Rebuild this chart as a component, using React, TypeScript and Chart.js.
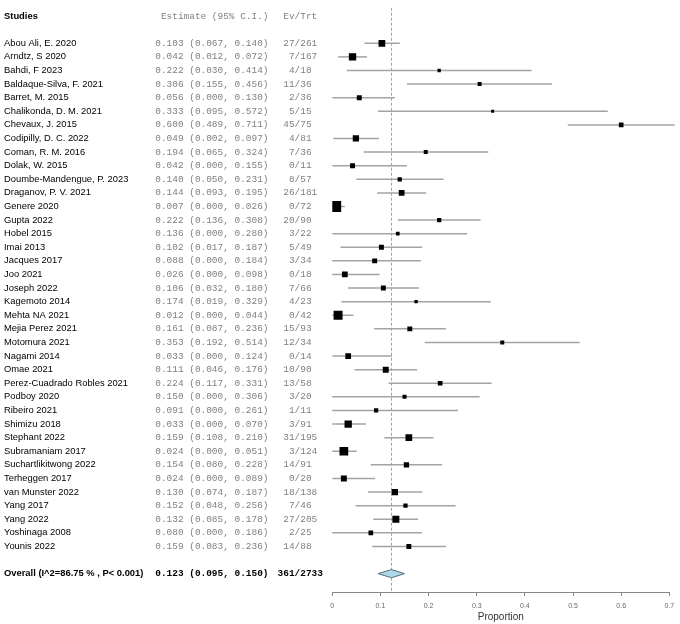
import React, { useEffect, useRef } from "react";
import { Chart, registerables } from "chart.js";
Chart.register(...registerables);

const studies = [
  "Abou Ali, E. 2020", "Arndtz, S 2020", "Bahdi, F 2023", "Baldaque-Silva, F. 2021", "Barret, M. 2015",
  "Chalikonda, D. M. 2021", "Chevaux, J. 2015", "Codipilly, D. C. 2022", "Coman, R. M. 2016", "Dolak, W. 2015",
  "Doumbe-Mandengue, P. 2023", "Draganov, P. V. 2021", "Genere 2020", "Gupta 2022", "Hobel 2015",
  "Imai 2013", "Jacques 2017", "Joo 2021", "Joseph 2022", "Kagemoto 2014",
  "Mehta NA 2021", "Mejia Perez 2021", "Motomura 2021", "Nagami 2014", "Omae 2021",
  "Perez-Cuadrado Robles 2021", "Podboy 2020", "Ribeiro 2021", "Shimizu 2018", "Stephant 2022",
  "Subramaniam 2017", "Suchartlikitwong 2022", "Terheggen 2017", "van Munster 2022", "Yang 2017",
  "Yang 2022", "Yoshinaga 2008", "Younis 2022",
];
const estimates = [
  0.103, 0.042, 0.222, 0.306, 0.056, 0.333, 0.600, 0.049, 0.194, 0.042,
  0.140, 0.144, 0.007, 0.222, 0.136, 0.102, 0.088, 0.026, 0.106, 0.174,
  0.012, 0.161, 0.353, 0.033, 0.111, 0.224, 0.150, 0.091, 0.033, 0.159,
  0.024, 0.154, 0.024, 0.130, 0.152, 0.132, 0.080, 0.159,
];
const lower = [
  0.067, 0.012, 0.030, 0.155, 0.000, 0.095, 0.489, 0.002, 0.065, 0.000,
  0.050, 0.093, 0.000, 0.136, 0.000, 0.017, 0.000, 0.000, 0.032, 0.019,
  0.000, 0.087, 0.192, 0.000, 0.046, 0.117, 0.000, 0.000, 0.000, 0.108,
  0.000, 0.080, 0.000, 0.074, 0.048, 0.085, 0.000, 0.083,
];
const upper = [
  0.140, 0.072, 0.414, 0.456, 0.130, 0.572, 0.711, 0.097, 0.324, 0.155,
  0.231, 0.195, 0.026, 0.308, 0.280, 0.187, 0.184, 0.098, 0.180, 0.329,
  0.044, 0.236, 0.514, 0.124, 0.176, 0.331, 0.306, 0.261, 0.070, 0.210,
  0.051, 0.228, 0.089, 0.187, 0.256, 0.178, 0.186, 0.236,
];
const events = [
  27, 7, 4, 11, 2, 5, 45, 4, 7, 0, 8, 26, 0, 20, 3, 5, 3, 0, 7, 4,
  0, 15, 12, 0, 10, 13, 3, 1, 3, 31, 3, 14, 0, 18, 7, 27, 2, 14,
];
const totals = [
  261, 167, 18, 36, 36, 15, 75, 81, 36, 11, 57, 181, 72, 90, 22, 49, 34, 18, 66, 23,
  42, 93, 34, 14, 90, 58, 20, 11, 91, 195, 124, 91, 20, 138, 46, 205, 25, 88,
];
// relative study weights (%)
const weights = [
  3.7, 4.4, 0.9, 1.3, 2.0, 0.7, 1.8, 3.2, 1.3, 2.0, 1.5, 2.7, 9.9, 1.5, 1.1, 2.0, 2.0, 2.7, 2.0, 0.9,
  6.6, 2.0, 1.3, 2.7, 2.9, 1.8, 1.3, 1.5, 4.4, 3.7, 6.2, 2.3, 2.9, 3.2, 1.5, 4.0, 1.8, 2.0,
];
const overallLabel = "Overall (I^2=86.75 % , P< 0.001)";
const overallEstimate = 0.123;
const overallLower = 0.095;
const overallUpper = 0.15;
const overallEvents = 361;
const overallTotal = 2733;
const xTicks = [0, 0.1, 0.2, 0.3, 0.4, 0.5, 0.6, 0.7];

const W = 680;
const H = 624;
const Y_MIN = -2.612;
const Y_MAX = 40.35;
const HEADER_ROW = -2;
const OVERALL_ROW = studies.length + 1;

const SANS = '"Liberation Sans", Arial, sans-serif';
const MONO = '"Liberation Mono", "Courier New", monospace';
const NAME_X = 4;
const EST_RIGHT = 268.5;
const SLASH_X = 294.6;

const fmt = (v: number) => v.toFixed(3);

const textPlugin = {
  id: "forestText",
  afterDraw(chart: any) {
    const ctx = chart.ctx as CanvasRenderingContext2D;
    const ys = chart.scales.y;
    ctx.save();
    ctx.textBaseline = "middle";

    const drawRow = (row: number, name: string, est: number, lo: number, hi: number, ev: number, tot: number, bold: boolean) => {
      const y = ys.getPixelForValue(row);
      ctx.font = `${bold ? "bold " : ""}9.4px ${SANS}`;
      ctx.fillStyle = "#000";
      ctx.textAlign = "left";
      ctx.fillText(name, NAME_X, y);
      ctx.font = `${bold ? "bold " : ""}9.45px ${MONO}`;
      ctx.fillStyle = bold ? "#000" : "#808080";
      ctx.textAlign = "right";
      ctx.fillText(`${fmt(est)} (${fmt(lo)}, ${fmt(hi)})`, EST_RIGHT, y);
      ctx.fillText(String(ev), SLASH_X, y);
      ctx.textAlign = "left";
      ctx.fillText(`/${tot}`, SLASH_X, y);
    };

    const hy = ys.getPixelForValue(HEADER_ROW);
    ctx.font = `bold 9.4px ${SANS}`;
    ctx.fillStyle = "#000";
    ctx.textAlign = "left";
    ctx.fillText("Studies", NAME_X, hy);
    ctx.font = `9.45px ${MONO}`;
    ctx.fillStyle = "#808080";
    ctx.textAlign = "right";
    ctx.fillText("Estimate (95% C.I.)", EST_RIGHT, hy);
    ctx.fillText("Ev", SLASH_X, hy);
    ctx.textAlign = "left";
    ctx.fillText("/Trt", SLASH_X, hy);

    studies.forEach((s, i) => drawRow(i, s, estimates[i], lower[i], upper[i], events[i], totals[i], false));
    drawRow(OVERALL_ROW, overallLabel, overallEstimate, overallLower, overallUpper, overallEvents, overallTotal, true);
    ctx.restore();
  },
};

export default function App() {
  const ref = useRef<HTMLCanvasElement | null>(null);
  useEffect(() => {
    if (!ref.current) return;
    const ciSets = studies.map((s, i) => ({
      type: "line" as const,
      label: s,
      data: [
        { x: lower[i], y: i },
        { x: upper[i], y: i },
      ],
      showLine: true,
      borderColor: "#a3a3a3",
      borderWidth: 1.5,
      pointRadius: 0,
      clip: false as any,
      order: 2,
    }));
    const chart = new Chart(ref.current, {
      type: "scatter",
      data: {
        datasets: [
          {
            label: "Estimates",
            data: estimates.map((e, i) => ({ x: e, y: i })),
            pointStyle: "rect",
            pointRadius: weights.map((w) => 2.47 * Math.sqrt(w)),
            backgroundColor: "#000",
            borderColor: "#000",
            borderWidth: 0,
            order: 0,
          } as any,
          {
            type: "line",
            label: "Overall",
            data: [
              { x: overallLower, y: OVERALL_ROW },
              { x: overallEstimate, y: OVERALL_ROW - 0.3 },
              { x: overallUpper, y: OVERALL_ROW },
              { x: overallEstimate, y: OVERALL_ROW + 0.3 },
              { x: overallLower, y: OVERALL_ROW },
            ],
            showLine: true,
            fill: "shape",
            backgroundColor: "#add8e6",
            borderColor: "#5a6a78",
            borderWidth: 1,
            pointRadius: 0,
            tension: 0,
            order: 1,
          } as any,
          ...ciSets,
          {
            type: "line",
            label: "Pooled",
            data: [
              { x: overallEstimate, y: Y_MIN },
              { x: overallEstimate, y: Y_MAX },
            ],
            showLine: true,
            borderColor: "rgba(240,70,70,0.7)",
            borderWidth: 1,
            borderDash: [3, 2],
            pointRadius: 0,
            order: 3,
          } as any,
        ],
      },
      options: {
        animation: false,
        responsive: false,
        devicePixelRatio: 1,
        layout: { padding: { left: 332.3, right: 7.7, top: 0, bottom: 1 } },
        plugins: { legend: { display: false }, tooltip: { enabled: false } },
        scales: {
          x: {
            type: "linear",
            min: 0,
            max: 0.7,
            afterBuildTicks: (axis: any) => {
              axis.ticks = xTicks.map((v) => ({ value: v }));
            },
            ticks: {
              font: { size: 7, family: SANS },
              color: "#666",
              padding: 5.8,
              maxRotation: 0,
              callback: (v: any) => String(v),
            },
            grid: { display: true, drawOnChartArea: false, tickLength: 4, color: "#888" },
            border: { display: true, color: "#888", width: 1 },
            title: {
              display: true,
              text: "Proportion",
              font: { size: 10, family: SANS },
              color: "#333",
              padding: { top: -5, bottom: 0 },
            },
          },
          y: {
            type: "linear",
            display: false,
            reverse: true,
            min: Y_MIN,
            max: Y_MAX,
          },
        },
      },
      plugins: [textPlugin],
    });
    return () => chart.destroy();
  }, []);
  return (
    <div style={{ position: "absolute", left: 0, top: 0, width: W, height: H, background: "#fff" }}>
      <canvas ref={ref} width={W} height={H} style={{ display: "block" }} />
    </div>
  );
}
